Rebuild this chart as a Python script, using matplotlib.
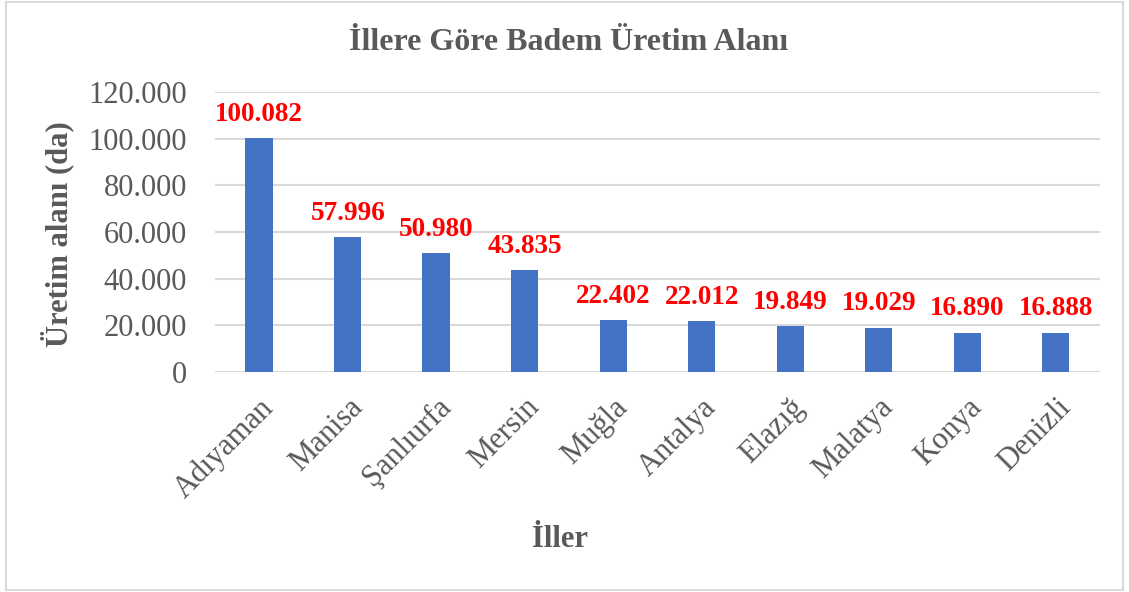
import matplotlib.pyplot as plt
from matplotlib.patches import Rectangle

# il bazinda badem uretim alani (da)
iller = ['Adıyaman', 'Manisa', 'Şanlıurfa', 'Mersin', 'Muğla',
         'Antalya', 'Elazığ', 'Malatya', 'Konya', 'Denizli']
alan = [100082, 57996, 50980, 43835, 22402, 22012, 19849, 19029, 16890, 16888]
yticks = [0, 20000, 40000, 60000, 80000, 100000, 120000]


def tr_format(v):
    # Turkish thousands separator
    return f"{v:,}".replace(",", ".")


plt.rcParams['font.family'] = ['Liberation Serif', 'DejaVu Serif']

fig = plt.figure(figsize=(11.29, 5.92), dpi=100)
ax = fig.add_axes([0.1904, 0.3716, 0.7839, 0.4730])

x = range(len(iller))
bars = ax.bar(x, alan, width=0.31, color='#4472C4', zorder=3)

for xi, v in zip(x, alan):
    ax.annotate(tr_format(v), (xi, v), xytext=(0, 8), textcoords='offset points',
                ha='center', va='bottom', color='#FF0000', fontsize=19.5,
                fontweight='bold')

ax.set_xlim(-0.5, len(iller) - 0.5)
ax.set_ylim(0, 120000)
ax.set_yticks(yticks)
ax.set_yticklabels([tr_format(t) for t in yticks])
ax.set_xticks(list(x))
ax.set_xticklabels(iller, rotation=45, ha='right', rotation_mode='anchor')

ax.tick_params(axis='y', length=0, pad=20, labelsize=22, labelcolor='#595959')
ax.tick_params(axis='x', length=0, pad=15, labelsize=22, labelcolor='#595959')
for lbl in ax.get_xticklabels():
    lbl.set_x(lbl.get_position()[0])
ax.grid(axis='y', color='#D9D9D9', linewidth=1.5, zorder=0)
for s in ax.spines.values():
    s.set_visible(False)

fig.text(0.504, 0.929, 'İllere Göre Badem Üretim Alanı', ha='center', va='center',
         fontsize=23, fontweight='bold', color='#595959')
fig.text(0.051, 0.605, 'Üretim alanı (da)', ha='center', va='center', rotation=90,
         fontsize=22, fontweight='bold', color='#595959')
fig.text(0.496, 0.088, 'İller', ha='center', va='center',
         fontsize=22, fontweight='bold', color='#595959')

fig.patches.append(Rectangle((0.005, 0.004), 0.99, 0.993, transform=fig.transFigure,
                             fill=False, edgecolor='#D9D9D9', linewidth=1.5))

fig.savefig('out.png', dpi=100, facecolor='white')
